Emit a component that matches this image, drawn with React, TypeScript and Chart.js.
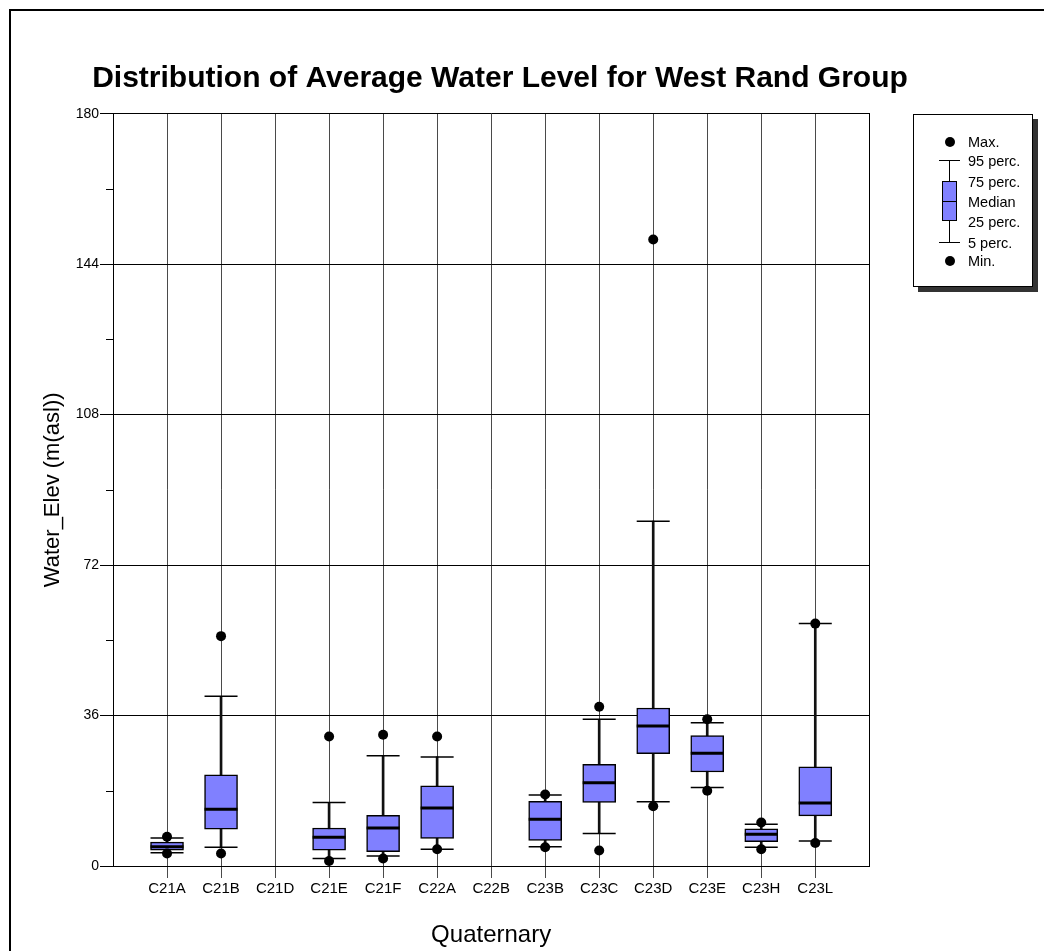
import React, { useEffect, useRef } from 'react';
import { Chart, registerables } from 'chart.js';

Chart.register(...registerables);

const FONT = '"Liberation Sans", Arial, sans-serif';

const titleText = 'Distribution of Average Water Level for West Rand Group';
const yTitle = 'Water_Elev (m(asl))';
const xTitle = 'Quaternary';

const categories = ['C21A', 'C21B', 'C21D', 'C21E', 'C21F', 'C22A', 'C22B', 'C23B', 'C23C', 'C23D', 'C23E', 'C23H', 'C23L'];
const minValues = [3.0, 3.0, null, 1.2, 1.8, 4.0, null, 4.5, 3.7, 14.3, 18.0, 4.0, 5.5];
const p5Values = [3.2, 4.5, null, 1.8, 2.4, 4.0, null, 4.6, 7.8, 15.4, 18.8, 4.5, 6.0];
const q1Values = [3.8, 8.8, null, 3.8, 3.4, 6.6, null, 6.1, 15.2, 26.9, 22.5, 5.8, 12.0];
const medianValues = [4.6, 13.6, null, 6.9, 9.1, 13.9, null, 11.2, 19.9, 33.5, 27.0, 7.6, 15.1];
const q3Values = [5.7, 21.8, null, 9.1, 12.1, 19.2, null, 15.5, 24.3, 37.8, 31.2, 8.9, 23.7];
const p95Values = [6.7, 40.6, null, 15.2, 26.4, 26.1, null, 17.0, 35.1, 82.5, 34.3, 10.0, 58.0];
const maxValues = [7.0, 55.0, null, 31.0, 31.4, 31.0, null, 17.1, 38.1, 149.9, 35.1, 10.4, 58.0];

const yTicks = [0, 36, 72, 108, 144, 180];
const yMinorTicks = [18, 54, 90, 126, 162];

const legendItems = [
  { label: 'Max.', y: 27 },
  { label: '95 perc.', y: 46 },
  { label: '75 perc.', y: 67 },
  { label: 'Median', y: 87 },
  { label: '25 perc.', y: 107 },
  { label: '5 perc.', y: 128 },
  { label: 'Min.', y: 146 },
];

const labels = ['', ...categories, ''];
const pad = (arr: any[]) => [null, ...arr, null];
const range = (lo: (number | null)[], hi: (number | null)[]) =>
  pad(lo.map((v, i) => (v == null || hi[i] == null ? null : [v, hi[i] as number])));

const minorTickPlugin = {
  id: 'minorTicks',
  afterDraw(chart: any) {
    const ctx = chart.ctx;
    const y = chart.scales.y;
    const left = chart.chartArea.left;
    ctx.save();
    ctx.strokeStyle = '#000';
    ctx.lineWidth = 1;
    yMinorTicks.forEach((v) => {
      const py = Math.round(y.getPixelForValue(v)) + 0.5;
      ctx.beginPath();
      ctx.moveTo(left - 7, py);
      ctx.lineTo(left, py);
      ctx.stroke();
    });
    ctx.restore();
  },
};

function ChartCanvas() {
  const ref = useRef<HTMLCanvasElement | null>(null);
  useEffect(() => {
    if (!ref.current) return;
    Chart.defaults.color = '#000';
    Chart.defaults.font.family = FONT;
    const lastIdx = labels.length - 1;
    const chart = new Chart(ref.current, {
      type: 'bar',
      data: {
        labels,
        datasets: [
          {
            type: 'bar',
            label: 'whisker',
            data: range(p5Values, p95Values) as any,
            backgroundColor: '#111',
            borderWidth: 0,
            barThickness: 2,
            grouped: false,
            order: 6,
          } as any,
          {
            type: 'bar',
            label: 'box',
            data: range(q1Values, q3Values) as any,
            backgroundColor: '#8080ff',
            borderColor: '#000',
            borderWidth: 1.5,
            borderSkipped: false,
            barThickness: 33,
            grouped: false,
            order: 5,
          } as any,
          {
            type: 'line',
            label: 'median',
            data: pad(medianValues),
            showLine: false,
            pointStyle: 'line',
            pointRadius: 16.5,
            pointBorderWidth: 3,
            pointBorderColor: '#000',
            order: 4,
          } as any,
          {
            type: 'line',
            label: 'p95',
            data: pad(p95Values),
            showLine: false,
            pointStyle: 'line',
            pointRadius: 16.5,
            pointBorderWidth: 1.5,
            pointBorderColor: '#000',
            order: 3,
          } as any,
          {
            type: 'line',
            label: 'p5',
            data: pad(p5Values),
            showLine: false,
            pointStyle: 'line',
            pointRadius: 16.5,
            pointBorderWidth: 1.5,
            pointBorderColor: '#000',
            order: 3,
          } as any,
          {
            type: 'line',
            label: 'max',
            data: pad(maxValues),
            showLine: false,
            pointStyle: 'circle',
            pointRadius: 5,
            pointBackgroundColor: '#000',
            pointBorderWidth: 0,
            order: 1,
          } as any,
          {
            type: 'line',
            label: 'min',
            data: pad(minValues),
            showLine: false,
            pointStyle: 'circle',
            pointRadius: 5,
            pointBackgroundColor: '#000',
            pointBorderWidth: 0,
            order: 1,
          } as any,
        ],
      },
      options: {
        responsive: false,
        animation: false,
        events: [],
        layout: { padding: { left: 0, top: 0, right: 52, bottom: 0 } },
        plugins: {
          legend: { display: false },
          tooltip: { enabled: false },
          title: {
            display: true,
            text: titleText,
            color: '#000',
            font: { size: 30, weight: 'bold', family: FONT, lineHeight: 1.2 },
            padding: { top: 53, bottom: 16.7 },
          },
        },
        scales: {
          x: {
            type: 'category',
            offset: false,
            grid: {
              offset: false,
              color: (c: any) => (c.index === 0 || c.index === lastIdx ? 'rgba(0,0,0,0)' : '#4a4a4a'),
              tickColor: (c: any) => (c.index === 0 || c.index === lastIdx ? 'rgba(0,0,0,0)' : '#4a4a4a'),
              tickLength: 12,
              lineWidth: 1,
            },
            border: { display: true, color: '#000', width: 1 },
            ticks: {
              autoSkip: false,
              maxRotation: 0,
              minRotation: 0,
              padding: 2,
              color: '#000',
              font: { size: 15, family: FONT, lineHeight: 1.2 },
            },
            title: {
              display: true,
              text: xTitle,
              color: '#000',
              font: { size: 24, family: FONT, lineHeight: 1.2 },
              padding: { top: 0, bottom: 1.6 },
            },
            afterFit: (s: any) => {
              s.height = 85;
            },
          },
          y: {
            type: 'linear',
            position: 'left',
            min: 0,
            max: 180,
            afterBuildTicks: (s: any) => {
              s.ticks = yTicks.map((v) => ({ value: v }));
            },
            grid: { color: '#000', tickColor: '#000', tickLength: 13, lineWidth: 1 },
            border: { display: true, color: '#000', width: 1 },
            ticks: {
              padding: 1,
              color: '#000',
              font: { size: 14, family: FONT, lineHeight: 1.2 },
            },
            title: {
              display: true,
              text: yTitle,
              color: '#000',
              font: { size: 22, family: FONT, lineHeight: 1.2 },
              padding: { top: 31.5, bottom: 0 },
            },
            afterFit: (s: any) => {
              s.width = 105;
            },
          },
          yRight: {
            type: 'linear',
            position: 'right',
            min: 0,
            max: 180,
            grid: { display: false },
            ticks: { display: false },
            border: { display: true, color: '#000', width: 1 },
            afterFit: (s: any) => {
              s.width = 122.7;
            },
          },
        },
      } as any,
      plugins: [minorTickPlugin],
    });
    return () => chart.destroy();
  }, []);
  return (
    <canvas
      ref={ref}
      width={1036}
      height={943}
      style={{ position: 'absolute', left: 0, top: 0, width: 1036, height: 943 }}
    />
  );
}

function Legend() {
  const dot = (top: number) => (
    <div
      style={{
        position: 'absolute',
        left: 31,
        top: top - 5,
        width: 10,
        height: 10,
        borderRadius: '50%',
        background: '#000',
      }}
    />
  );
  const hline = (top: number, left: number, width: number, h: number) => (
    <div style={{ position: 'absolute', left, top: top - h / 2, width, height: h, background: '#000' }} />
  );
  const vline = (top: number, bottom: number) => (
    <div style={{ position: 'absolute', left: 35, top, width: 1, height: bottom - top, background: '#000' }} />
  );
  return (
    <div
      style={{
        position: 'absolute',
        left: 905,
        top: 106,
        width: 120,
        height: 173,
        boxSizing: 'border-box',
        border: '1px solid #000',
        background: '#fff',
        boxShadow: '5px 5px 0 0 #333',
        fontFamily: FONT,
        fontSize: 14.5,
        color: '#000',
      }}
    >
      {dot(27)}
      {hline(45, 25, 21, 1)}
      {vline(45, 67)}
      <div
        style={{
          position: 'absolute',
          left: 28,
          top: 66,
          width: 15,
          height: 40,
          boxSizing: 'border-box',
          border: '1px solid #000',
          background: '#8080ff',
        }}
      />
      {hline(86, 28, 15, 1)}
      {vline(105, 127)}
      {hline(127, 25, 21, 1)}
      {dot(146)}
      {legendItems.map((it) => (
        <div
          key={it.label}
          style={{ position: 'absolute', left: 54, top: it.y - 8, lineHeight: '16px', whiteSpace: 'nowrap' }}
        >
          {it.label}
        </div>
      ))}
    </div>
  );
}

export default function App() {
  useEffect(() => {
    document.documentElement.style.overflow = 'hidden';
    document.body.style.overflow = 'hidden';
  }, []);
  return (
    <div
      style={{
        position: 'absolute',
        left: 8,
        top: 8,
        width: 1036,
        height: 943,
        overflow: 'hidden',
        background: '#fff',
      }}
    >
      <ChartCanvas />
      <div
        style={{
          position: 'absolute',
          left: 1,
          top: 1,
          width: 1040,
          height: 950,
          borderTop: '2px solid #000',
          borderLeft: '2px solid #000',
          pointerEvents: 'none',
        }}
      />
      <Legend />
    </div>
  );
}
